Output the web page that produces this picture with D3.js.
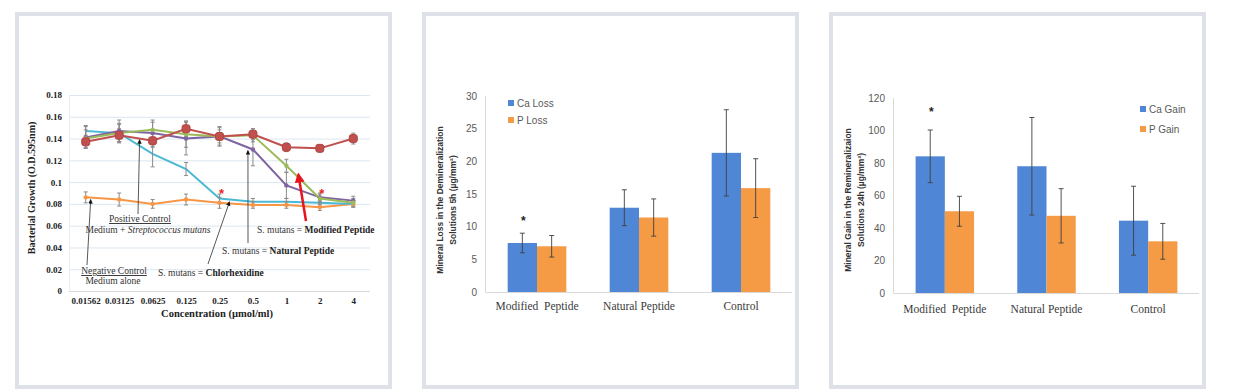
<!DOCTYPE html>
<html><head><meta charset="utf-8">
<script src="https://cdn.jsdelivr.net/npm/d3@7"></script>
<style>body{margin:0;background:#fff} svg{display:block}</style>
</head><body><svg id="c" width="1240" height="391"></svg>
<script>
// ---------- Panel 1 data ----------
const concentrations = ["0.01562","0.03125","0.0625","0.125","0.25","0.5","1","2","4"];
const positiveControl = [0.137,0.143,0.138,0.149,0.142,0.144,0.132,0.131,0.140];
const positiveErr     = [0.006,0.006,0.006,0.007,0.006,0.005,0.004,0.003,0.005];
const modifiedPeptide = [0.140,0.145,0.148,0.144,0.142,0.143,0.115,0.085,0.081];
const modifiedErr     = [0.008,0.009,0.007,0.012,0.008,0.006,0.006,0.004,0.004];
const naturalPeptide  = [0.141,0.147,0.145,0.140,0.142,0.130,0.097,0.086,0.083];
const naturalErr      = [0.010,0.010,0.012,0.015,0.009,0.015,0.012,0.004,0.004];
const chlorhexidine   = [0.147,0.145,0.126,0.112,0.085,0.082,0.082,0.081,0.080];
const chlorErr        = [0.005,0.008,0.012,0.006,0.004,0.003,0.003,0.002,0.002];
const negativeControl = [0.086,0.084,0.080,0.084,0.081,0.079,0.079,0.077,0.080];
const negativeErr     = [0.005,0.006,0.004,0.005,0.005,0.003,0.003,0.003,0.003];
const yTicks1 = [0,0.02,0.04,0.06,0.08,0.1,0.12,0.14,0.16,0.18];
const sigStars1 = [["0.25",0.093],["2",0.093]];

// ---------- Panel 2 data ----------
const groups = ["Modified  Peptide","Natural Peptide","Control"];
const caLoss = [7.5,12.9,21.3];
const caLossErr = [1.5,2.75,6.6];
const pLoss = [7.0,11.4,15.9];
const pLossErr = [1.65,2.85,4.5];
const yTicks2 = [0,5,10,15,20,25,30];
const sigLoss = [[0,11.5]];

// ---------- Panel 3 data ----------
const caGain = [84.1,78.0,44.5];
const caGainErr = [16.2,30.0,21.2];
const pGain = [50.3,47.5,31.8];
const pGainErr = [9.2,16.7,11.0];
const yTicks3 = [0,20,40,60,80,100,120];
const sigGain = [[0,114]];

const svg = d3.select("#c");
const SERIF = "'Liberation Serif','Times New Roman',serif";
const SANS = "'Liberation Sans',Arial,sans-serif";

// panel frames
[15,422,829].forEach(px=>{
  svg.append("rect").attr("x",px+2).attr("y",14).attr("width",373).attr("height",373)
    .attr("fill","#fff").attr("stroke","#dee2e8").attr("stroke-width",4);
});

// defs arrowheads
const defs = svg.append("defs");
defs.append("marker").attr("id","ab").attr("viewBox","0 0 10 10").attr("refX",9).attr("refY",5)
  .attr("markerWidth",5).attr("markerHeight",5).attr("orient","auto-start-reverse")
  .append("path").attr("d","M0,0L10,5L0,10z").attr("fill","#111");
defs.append("marker").attr("id","ar").attr("viewBox","0 0 10 10").attr("refX",8).attr("refY",5)
  .attr("markerWidth",4).attr("markerHeight",4).attr("orient","auto-start-reverse")
  .append("path").attr("d","M0,0L10,5L0,10z").attr("fill","#e8141b");

// ================= PANEL 1 =================
const g1 = svg.append("g");
const x1 = d3.scalePoint().domain(concentrations).range([69,370]).padding(0.5);
const y1 = d3.scaleLinear().domain([0,0.18]).range([291,95]);

g1.selectAll("line.grid").data(yTicks1.filter(d=>d>0)).join("line")
  .attr("x1",69).attr("x2",370).attr("y1",d=>y1(d)+0.5).attr("y2",d=>y1(d)+0.5)
  .attr("stroke","#dbe6f1").attr("stroke-width",1);
g1.append("line").attr("x1",69).attr("x2",370).attr("y1",y1(0)+0.5).attr("y2",y1(0)+0.5)
  .attr("stroke","#d9d9d9");
g1.append("line").attr("x1",69.5).attr("x2",69.5).attr("y1",y1(0.18)).attr("y2",y1(0))
  .attr("stroke","#e8eef5");

const ax1 = d3.axisLeft(y1).tickValues(yTicks1).tickSize(0).tickPadding(7)
  .tickFormat(d=>String(+d.toFixed(2)));
const ay = g1.append("g").attr("transform","translate(69,0)").call(ax1);
ay.select(".domain").remove();
ay.selectAll("text").attr("font-family",SERIF).attr("font-weight","bold").attr("font-size",9).attr("fill","#222");

const axb = d3.axisBottom(x1).tickSize(0).tickPadding(7);
const ax = g1.append("g").attr("transform",`translate(0,${y1(0)})`).call(axb);
ax.select(".domain").remove();
ax.selectAll("text").attr("font-family",SERIF).attr("font-weight","bold").attr("font-size",9).attr("fill","#222");

g1.append("text").attr("x",217).attr("y",317).attr("text-anchor","middle")
  .attr("font-family",SERIF).attr("font-weight","bold").attr("font-size",10.5).attr("fill","#222")
  .text("Concentration (µmol/ml)");
g1.append("text").attr("transform","translate(35,188) rotate(-90)").attr("text-anchor","middle")
  .attr("font-family",SERIF).attr("font-weight","bold").attr("font-size",10).attr("fill","#222")
  .text("Bacterial Growth (O.D.595nm)");

const series1 = [
  {v:negativeControl,e:negativeErr,c:"#f79646",m:"dot"},
  {v:chlorhexidine,e:chlorErr,c:"#4bb9d6",m:"none"},
  {v:naturalPeptide,e:naturalErr,c:"#8064a2",m:"dot"},
  {v:modifiedPeptide,e:modifiedErr,c:"#9bbb59",m:"dot"},
  {v:positiveControl,e:positiveErr,c:"#c0504d",m:"sq"}
];
const line1 = d3.line().x((d,i)=>x1(concentrations[i])).y(d=>y1(d));
series1.forEach(s=>{
  g1.append("path").datum(s.v).attr("d",line1).attr("fill","none")
    .attr("stroke",s.c).attr("stroke-width",2);
});
series1.forEach(s=>{
  const eg = g1.append("g").attr("stroke","#8a8a8a").attr("stroke-width",1);
  s.v.forEach((v,i)=>{
    const cx = x1(concentrations[i]);
    eg.append("line").attr("x1",cx).attr("x2",cx).attr("y1",y1(v-s.e[i])).attr("y2",y1(v+s.e[i]));
    eg.append("line").attr("x1",cx-2).attr("x2",cx+2).attr("y1",y1(v-s.e[i])).attr("y2",y1(v-s.e[i]));
    eg.append("line").attr("x1",cx-2).attr("x2",cx+2).attr("y1",y1(v+s.e[i])).attr("y2",y1(v+s.e[i]));
  });
});
series1.forEach(s=>{
  if(s.m==="sq"){
    g1.selectAll(null).data(s.v).join("rect")
      .attr("x",(d,i)=>x1(concentrations[i])-4).attr("y",d=>y1(d)-4)
      .attr("width",8).attr("height",8).attr("rx",2.5).attr("fill",s.c).attr("stroke","#b04440");
  } else if(s.m==="dot"){
    g1.selectAll(null).data(s.v).join("circle")
      .attr("cx",(d,i)=>x1(concentrations[i])).attr("cy",d=>y1(d)).attr("r",2.2).attr("fill",s.c);
  }
});
sigStars1.forEach(([c,v])=>{
  g1.append("text").attr("x",x1(c)+2).attr("y",y1(v)+8).attr("text-anchor","middle")
    .attr("font-family",SANS).attr("font-weight","bold").attr("font-size",13).attr("fill","#f02020").text("*");
});

// annotations
function ann(parts, x, y, anchor){
  const t = g1.append("text").attr("x",x).attr("y",y).attr("text-anchor",anchor||"start")
    .attr("font-family",SERIF).attr("font-size",9.5).attr("fill","#333");
  parts.forEach(p=>{
    const ts = t.append("tspan").text(p.t);
    if(p.b) ts.attr("font-weight","bold").attr("fill","#222");
    if(p.i) ts.attr("font-style","italic");
    if(p.u) ts.attr("text-decoration","underline");
  });
  return t;
}
function pointer(xa,ya,xb,yb,red){
  g1.append("line").attr("x1",xa).attr("y1",ya).attr("x2",xb).attr("y2",yb)
    .attr("stroke",red?"#e8141b":"#444").attr("stroke-width",red?2.5:0.9)
    .attr("marker-end",red?"url(#ar)":"url(#ab)");
}
ann([{t:"Positive Control",u:true}],140,222,"middle");
ann([{t:"Medium + "},{t:"Streptococcus mutans",i:true}],148,233,"middle");
pointer(138,214,x1("0.0625")-13,y1(0.139));
ann([{t:"Negative Control",u:true}],114,274,"middle");
ann([{t:"Medium alone"}],113,284,"middle");
pointer(87,265,x1("0.01562")+5,y1(0.084));
ann([{t:"S. mutans = "},{t:"Chlorhexidine",b:true}],158,276);
pointer(208,264,x1("0.25")+10,y1(0.082));
ann([{t:"S. mutans = "},{t:"Natural Peptide",b:true}],222,254);
pointer(248,243,x1("0.5")-5,y1(0.129));
ann([{t:"S. mutans = "},{t:"Modified Peptide",b:true}],257,233);
pointer(306,221,x1("1")+12,y1(0.107),true);

// ================= BAR PANELS =================
function barPanel(opts){
  const g = svg.append("g");
  const x = d3.scaleBand().domain(groups).range(opts.xr).paddingInner(0.425).paddingOuter(0.2125);
  const xs = d3.scaleBand().domain(["a","b"]).range([0,x.bandwidth()]);
  const y = d3.scaleLinear().domain([0,opts.max]).range(opts.yr);
  g.append("line").attr("x1",opts.xr[0]-0.5).attr("x2",opts.xr[0]-0.5).attr("y1",y(opts.max)).attr("y2",y(0))
    .attr("stroke","#d9d9d9");
  g.append("line").attr("x1",opts.xr[0]-0.5).attr("x2",opts.xr[1]).attr("y1",y(0)+0.5).attr("y2",y(0)+0.5)
    .attr("stroke","#d9d9d9");
  const ya = g.append("g").attr("transform",`translate(${opts.xr[0]-1},0)`)
    .call(d3.axisLeft(y).tickValues(opts.ticks).tickSize(0).tickPadding(8));
  ya.select(".domain").remove();
  ya.selectAll("text").attr("font-family",SANS).attr("font-size",10).attr("fill","#595959");
  const xa = g.append("g").attr("transform",`translate(0,${y(0)})`)
    .call(d3.axisBottom(x).tickSize(0).tickPadding(opts.xpad));
  xa.select(".domain").remove();
  xa.selectAll("text").attr("font-family",SERIF).attr("font-size",11.5).attr("fill","#3a3a3a")
    .style("white-space","pre").attr("xml:space","preserve");
  const sets = [{k:"a",v:opts.a,e:opts.ae,c:"#4f86d5"},{k:"b",v:opts.b,e:opts.be,c:"#f59a45"}];
  sets.forEach(s=>{
    g.selectAll(null).data(s.v).join("rect")
      .attr("x",(d,i)=>x(groups[i])+xs(s.k)).attr("width",xs.bandwidth())
      .attr("y",d=>y(d)).attr("height",d=>y(0)-y(d)).attr("fill",s.c);
  });
  sets.forEach(s=>{
    const eg = g.append("g").attr("stroke","#3f3f3f").attr("stroke-width",0.9);
    s.v.forEach((v,i)=>{
      const cx = x(groups[i])+xs(s.k)+xs.bandwidth()/2;
      const lo=y(v-s.e[i]), hi=y(v+s.e[i]);
      eg.append("line").attr("x1",cx).attr("x2",cx).attr("y1",lo).attr("y2",hi);
      eg.append("line").attr("x1",cx-2.5).attr("x2",cx+2.5).attr("y1",lo).attr("y2",lo);
      eg.append("line").attr("x1",cx-2.5).attr("x2",cx+2.5).attr("y1",hi).attr("y2",hi);
    });
  });
  opts.sig.forEach(([gi,v])=>{
    g.append("text").attr("x",x(groups[gi])+xs("a")+xs.bandwidth()/2+1).attr("y",y(v)+8)
      .attr("text-anchor","middle").attr("font-family",SANS).attr("font-weight","bold")
      .attr("font-size",12).attr("fill","#222").text("*");
  });
  // legend
  opts.legend.forEach((l,i)=>{
    g.append("rect").attr("x",l.x).attr("y",l.y-3).attr("width",6).attr("height",6).attr("fill",sets[i].c);
    g.append("text").attr("x",l.x+9).attr("y",l.y).attr("dy","0.35em")
      .attr("font-family",SANS).attr("font-size",10).attr("fill","#595959").text(l.t);
  });
  // y title
  const tt = g.append("text").attr("transform",`translate(${opts.tx},${opts.ty}) rotate(-90)`)
    .attr("text-anchor","middle").attr("font-family",SANS).attr("font-weight","bold")
    .attr("font-size",8.5).attr("fill","#333");
  tt.append("tspan").attr("x",0).attr("y",0).text(opts.t1);
  tt.append("tspan").attr("x",0).attr("y",13).text(opts.t2);
}

barPanel({xr:[486,792],yr:[292,96],max:30,ticks:yTicks2,a:caLoss,ae:caLossErr,b:pLoss,be:pLossErr,
  sig:sigLoss,xpad:10,
  legend:[{x:508,y:103,t:"Ca Loss"},{x:508,y:120,t:"P Loss"}],
  tx:443,ty:200,t1:"Mineral Loss in the Demineralization",t2:"Solutions 5h (µg/mm²)"});
barPanel({xr:[894,1199],yr:[293,98],max:120,ticks:yTicks3,a:caGain,ae:caGainErr,b:pGain,be:pGainErr,
  sig:sigGain,xpad:12,
  legend:[{x:1140,y:109,t:"Ca Gain"},{x:1140,y:129,t:"P Gain"}],
  tx:851,ty:200,t1:"Mineral Gain in the Remineralizaion",t2:"Solutions 24h (µg/mm²)"});
</script></body></html>
